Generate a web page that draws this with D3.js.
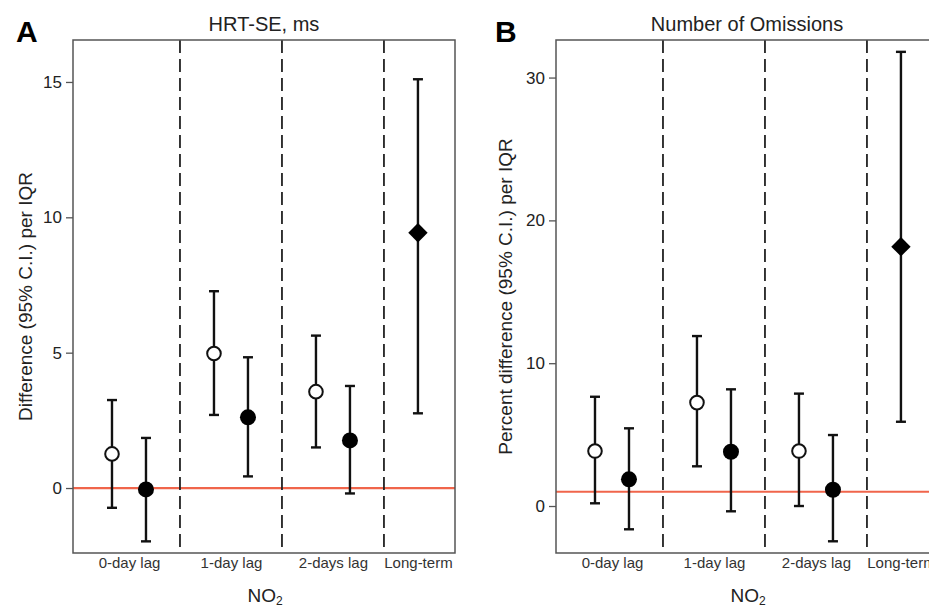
<!DOCTYPE html>
<html>
<head>
<meta charset="utf-8">
<script src="https://cdn.jsdelivr.net/npm/d3@7"></script>
<style>
  html, body { margin: 0; padding: 0; background: #fff; }
  svg { display: block; font-family: "Liberation Sans", Arial, sans-serif; }
</style>
</head>
<body>
<svg id="chart" width="929" height="609"></svg>
<script>
// ---- Data ----
const categories = ["0-day lag", "1-day lag", "2-days lag", "Long-term"];
const categoryCenters = [1.5, 4.5, 7.5, 10];
const dividers = [3, 6, 9];
const positions = [1, 2, 4, 5, 7, 8, 10];
const markers = ["open", "filled", "open", "filled", "open", "filled", "diamond"];

const hrtEst = [1.26, -0.05, 4.97, 2.61, 3.56, 1.76, 9.43];
const hrtLo  = [-0.73, -1.97, 2.70, 0.43, 1.50, -0.20, 2.76];
const hrtHi  = [3.25, 1.85, 7.27, 4.83, 5.63, 3.77, 15.1];
const hrtTicks = [0, 5, 10, 15];
const hrtRef = 0;

const omEst = [3.85, 1.87, 7.24, 3.80, 3.85, 1.14, 18.16];
const omLo  = [0.19, -1.63, 2.78, -0.37, 0.00, -2.47, 5.90];
const omHi  = [7.65, 5.44, 11.9, 8.17, 7.87, 4.97, 31.8];
const omTicks = [0, 10, 20, 30];
const omRef = 1;

const svg = d3.select("#chart");
const plotTop = 40, plotBottom = 553;

function panel(opts) {
  const g = svg.append("g");
  const x = d3.scaleLinear().domain([-0.147, 11.09]).range([opts.left, opts.left + 382]);
  const y = d3.scaleLinear().domain(opts.yDomain).range([plotBottom, plotTop]);
  const x0 = x.range()[0], x1 = x.range()[1];

  // reference line
  g.append("line")
    .attr("x1", x0).attr("x2", x1)
    .attr("y1", y(opts.ref)).attr("y2", y(opts.ref))
    .attr("stroke", "#f0654b").attr("stroke-width", 2.2);

  // dashed dividers
  g.selectAll("line.div").data(dividers).enter().append("line")
    .attr("class", "div")
    .attr("x1", d => x(d)).attr("x2", d => x(d))
    .attr("y1", plotTop).attr("y2", plotBottom)
    .attr("stroke", "#222").attr("stroke-width", 1.8)
    .attr("stroke-dasharray", "13,6");

  // frame
  g.append("rect")
    .attr("x", x0).attr("y", plotTop)
    .attr("width", x1 - x0).attr("height", plotBottom - plotTop)
    .attr("fill", "none").attr("stroke", "#555").attr("stroke-width", 1.5);

  // y axis
  const ya = g.append("g").attr("transform", `translate(${x0},0)`)
    .call(d3.axisLeft(y).tickValues(opts.ticks).tickSize(7).tickPadding(4));
  ya.select(".domain").remove();
  ya.selectAll(".tick line").attr("stroke", "#555").attr("stroke-width", 1.3);
  ya.selectAll(".tick text").attr("font-size", 17).attr("fill", "#222")
    .attr("font-family", "Liberation Sans, Arial, sans-serif");

  // category labels
  const xa = g.append("g").attr("transform", `translate(0,${plotBottom})`)
    .call(d3.axisBottom(x).tickValues(categoryCenters)
      .tickFormat((d, i) => categories[i]).tickSize(0));
  xa.select(".domain").remove();
  xa.selectAll(".tick text").attr("font-size", 15).attr("fill", "#333")
    .attr("y", 15).attr("dy", 0)
    .attr("font-family", "Liberation Sans, Arial, sans-serif");

  // error bars
  const idx = d3.range(positions.length);
  const cap = 5;
  g.selectAll("line.eb").data(idx).enter().append("line")
    .attr("class", "eb")
    .attr("x1", i => x(positions[i])).attr("x2", i => x(positions[i]))
    .attr("y1", i => y(opts.lo[i])).attr("y2", i => y(opts.hi[i]))
    .attr("stroke", "#111").attr("stroke-width", 2.4);
  ["lo", "hi"].forEach(k => {
    g.selectAll("line.cap" + k).data(idx).enter().append("line")
      .attr("class", "cap" + k)
      .attr("x1", i => x(positions[i]) - cap).attr("x2", i => x(positions[i]) + cap)
      .attr("y1", i => y(opts[k][i])).attr("y2", i => y(opts[k][i]))
      .attr("stroke", "#111").attr("stroke-width", 2.4);
  });

  // markers
  idx.forEach(i => {
    const cx = x(positions[i]), cy = y(opts.est[i]);
    if (markers[i] === "open") {
      g.append("circle").attr("cx", cx).attr("cy", cy).attr("r", 6.8)
        .attr("fill", "#fff").attr("stroke", "#111").attr("stroke-width", 2);
    } else if (markers[i] === "filled") {
      g.append("circle").attr("cx", cx).attr("cy", cy).attr("r", 8)
        .attr("fill", "#000");
    } else {
      g.append("path")
        .attr("d", d3.symbol().type(d3.symbolDiamond2).size(240)())
        .attr("transform", `translate(${cx},${cy})`)
        .attr("fill", "#000");
    }
  });

  // title
  svg.append("text").attr("x", (x0 + x1) / 2).attr("y", 31)
    .attr("text-anchor", "middle").attr("font-size", 20).attr("fill", "#222")
    .text(opts.title);

  // y title
  svg.append("text")
    .attr("transform", `translate(${x0 - opts.yTitleOffset},${(plotTop + plotBottom) / 2}) rotate(-90)`)
    .attr("text-anchor", "middle").attr("font-size", 19).attr("fill", "#222")
    .text(opts.yTitle);

  // x title NO2
  const xt = svg.append("text").attr("x", x0 + 192).attr("y", 602)
    .attr("text-anchor", "middle").attr("font-size", 19).attr("fill", "#222");
  xt.append("tspan").text("NO");
  xt.append("tspan").attr("font-size", 12).attr("dy", 3).text("2");

  // panel letter
  svg.append("text").attr("x", opts.letterX).attr("y", 42)
    .attr("font-size", 30).attr("font-weight", "bold").attr("fill", "#000")
    .text(opts.letter);
}

panel({ left: 73, yDomain: [-2.4, 16.55], ticks: hrtTicks, ref: hrtRef,
  est: hrtEst, lo: hrtLo, hi: hrtHi, title: "HRT-SE, ms",
  yTitle: "Difference (95% C.I.) per IQR", yTitleOffset: 41, letter: "A", letterX: 16 });
panel({ left: 556, yDomain: [-3.29, 32.63], ticks: omTicks, ref: omRef,
  est: omEst, lo: omLo, hi: omHi, title: "Number of Omissions",
  yTitle: "Percent difference (95% C.I.) per IQR", yTitleOffset: 44, letter: "B", letterX: 495 });
</script>
</body>
</html>
